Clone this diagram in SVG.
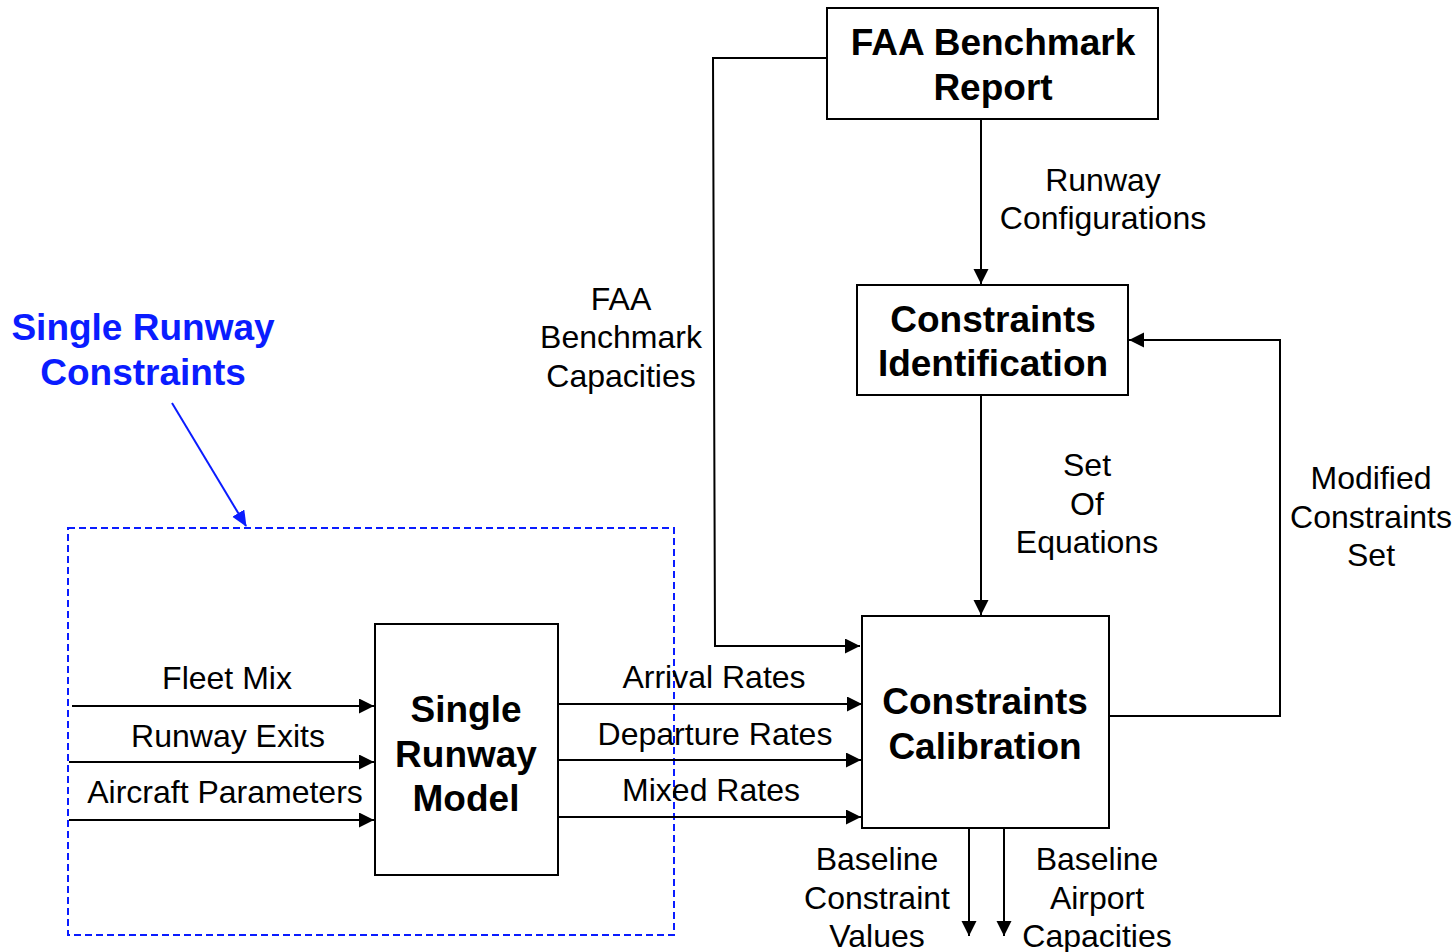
<svg xmlns="http://www.w3.org/2000/svg" width="1454" height="952" viewBox="0 0 1454 952">
<defs>
<marker id="ah" markerUnits="userSpaceOnUse" markerWidth="16" markerHeight="16" refX="15" refY="7.5" orient="auto"><path d="M0,0 L15,7.5 L0,15 z" fill="#000"/></marker>
<marker id="ahb" markerUnits="userSpaceOnUse" markerWidth="16" markerHeight="16" refX="15" refY="7" orient="auto"><path d="M0,0 L16,7 L0,14 z" fill="#0a1cff"/></marker>
</defs>
<style>
.box{fill:#fff;stroke:#000;stroke-width:2}
.ln{fill:none;stroke:#000;stroke-width:2}
.t{font-family:"Liberation Sans",Arial,sans-serif;font-size:32px;fill:#000;text-anchor:middle}
.b{font-family:"Liberation Sans",Arial,sans-serif;font-size:37px;font-weight:bold;fill:#000;text-anchor:middle}
.blue{fill:#0a1cff}
</style>
<rect width="1454" height="952" fill="#fff"/>

<g id="group-single-runway-constraints">
<rect x="68" y="528" width="606" height="407" fill="none" stroke="#0a1cff" stroke-width="2" stroke-dasharray="7,4"/>
<text class="b blue" x="143" y="340">Single Runway</text>
<text class="b blue" x="143" y="385">Constraints</text>
</g>

<g id="connectors">
<line x1="172" y1="403" x2="246" y2="526" stroke="#0a1cff" stroke-width="2" marker-end="url(#ahb)"/>
<line class="ln" x1="981" y1="120" x2="981" y2="284" marker-end="url(#ah)"/>
<line class="ln" x1="981" y1="396" x2="981" y2="615" marker-end="url(#ah)"/>
<polyline class="ln" points="826,58 713,58 715,646 860,646" marker-end="url(#ah)"/>
<polyline class="ln" points="1110,716 1280,716 1280,340 1129,340" marker-end="url(#ah)"/>
<line class="ln" x1="72" y1="706" x2="374" y2="706" marker-end="url(#ah)"/>
<line class="ln" x1="69" y1="762" x2="374" y2="762" marker-end="url(#ah)"/>
<line class="ln" x1="69" y1="820" x2="374" y2="820" marker-end="url(#ah)"/>
<line class="ln" x1="559" y1="704" x2="862" y2="704" marker-end="url(#ah)"/>
<line class="ln" x1="559" y1="760" x2="861" y2="760" marker-end="url(#ah)"/>
<line class="ln" x1="559" y1="817" x2="861" y2="817" marker-end="url(#ah)"/>
<line class="ln" x1="969" y1="829" x2="969" y2="936" marker-end="url(#ah)"/>
<line class="ln" x1="1004" y1="829" x2="1004" y2="936" marker-end="url(#ah)"/>
<text class="t" x="1103" y="191">Runway</text>
<text class="t" x="1103" y="229">Configurations</text>
<text class="t" x="621" y="310">FAA</text>
<text class="t" x="621" y="348">Benchmark</text>
<text class="t" x="621" y="387">Capacities</text>
<text class="t" x="1087" y="476">Set</text>
<text class="t" x="1087" y="515">Of</text>
<text class="t" x="1087" y="553">Equations</text>
<text class="t" x="1371" y="489">Modified</text>
<text class="t" x="1371" y="528">Constraints</text>
<text class="t" x="1371" y="566">Set</text>
<text class="t" x="227" y="689">Fleet Mix</text>
<text class="t" x="228" y="747">Runway Exits</text>
<text class="t" x="225" y="803">Aircraft Parameters</text>
<text class="t" x="714" y="688">Arrival Rates</text>
<text class="t" x="715" y="745">Departure Rates</text>
<text class="t" x="711" y="801">Mixed Rates</text>
<text class="t" x="877" y="870">Baseline</text>
<text class="t" x="877" y="909">Constraint</text>
<text class="t" x="877" y="947">Values</text>
<text class="t" x="1097" y="870">Baseline</text>
<text class="t" x="1097" y="909">Airport</text>
<text class="t" x="1097" y="947">Capacities</text>
</g>

<g id="node-faa-benchmark-report">
<rect class="box" x="827" y="8" width="331" height="111"/>
<text class="b" x="993" y="55">FAA Benchmark</text>
<text class="b" x="993" y="100">Report</text>
</g>

<g id="node-constraints-identification">
<rect class="box" x="857" y="285" width="271" height="110"/>
<text class="b" x="993" y="332">Constraints</text>
<text class="b" x="993" y="376">Identification</text>
</g>

<g id="node-single-runway-model">
<rect class="box" x="375" y="624" width="183" height="251"/>
<text class="b" x="466" y="722">Single</text>
<text class="b" x="466" y="767">Runway</text>
<text class="b" x="466" y="811">Model</text>
</g>

<g id="node-constraints-calibration">
<rect class="box" x="862" y="616" width="247" height="212"/>
<text class="b" x="985" y="714">Constraints</text>
<text class="b" x="985" y="759">Calibration</text>
</g>
</svg>
